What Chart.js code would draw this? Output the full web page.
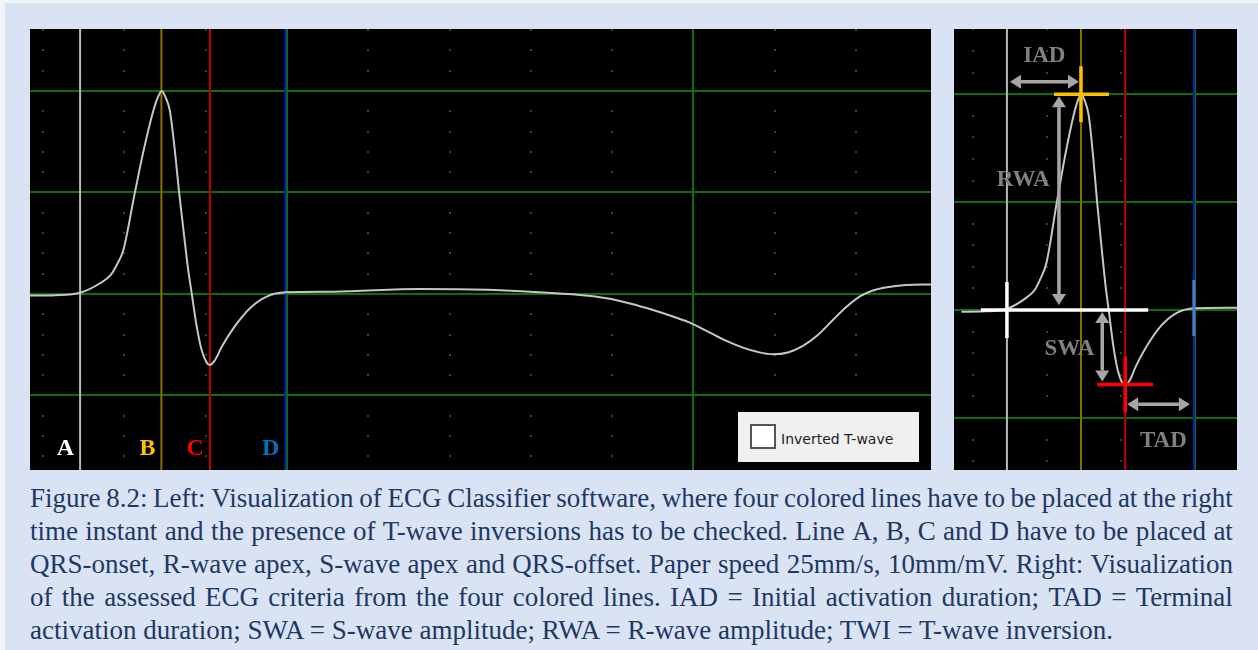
<!DOCTYPE html>
<html lang="en">
<head>
<meta charset="UTF-8">
<title>ECG Classifier - Figure 8.2</title>
<script src="https://cdn.jsdelivr.net/npm/chart.js"></script>
<style>
  html, body { margin: 0; padding: 0; }
  body { width: 1258px; height: 650px; background: #f3f4f7; position: relative; overflow: hidden; }
  #frame { position: absolute; left: 5px; top: 3px; right: 0; bottom: 0; background: #dae3f3; }
  .panel { position: absolute; top: 29px; height: 441px; background: #000; }
  #leftPanel { left: 30px; width: 901px; }
  #rightPanel { left: 954px; width: 283px; }
  .panel canvas { display: block; }
  #twave { position: absolute; left: 738px; top: 412px; width: 181px; height: 50px; background: #f0f0f0; }
  #twave .box { position: absolute; left: 12px; top: 12px; width: 22px; height: 21px; border: 2px solid #555; background: #fff; }
  #twave .lbl { position: absolute; left: 43px; top: 19px; line-height: 16px; font-family: "DejaVu Sans", sans-serif; font-size: 14px; color: #1e1e1e; white-space: nowrap; }
  #caption { position: absolute; left: 30px; top: 482px; width: 1203px; font-family: "Liberation Serif", "Times New Roman", serif; font-size: 27px; line-height: 33.1px; color: #203864; }
  #caption .row { display: flex; justify-content: space-between; white-space: nowrap; }
  #caption .last { white-space: nowrap; }
</style>
</head>
<body>
<div id="frame"></div>
<div id="leftPanel" class="panel"><canvas id="leftCanvas" width="901" height="441"></canvas></div>
<div id="rightPanel" class="panel"><canvas id="rightCanvas" width="283" height="441"></canvas></div>
<div id="twave"><div class="box"></div><div class="lbl">Inverted T-wave</div></div>
<div id="caption"></div>

<script>
  // ECG trace (time in ms, amplitude in mV)
  const traceTime = [73.6, 85.9, 98.2, 108.0, 113.3, 116.2, 119.5, 125.2, 129.3, 134.2, 136.5, 138.4, 140.2, 142.4, 144.9, 146.9, 150.2, 151.4, 153.1, 155.6, 158.0, 160.5, 162.1, 164.6, 167.9, 173.6, 181.8, 190.0, 199.4, 222.8, 265.4, 298.3, 319.6, 344.2, 357.3, 368.8, 380.1, 389.9, 399.8, 408.1, 416.5, 424.4, 431.8, 439.1, 446.5, 453.9, 461.2, 468.6, 475.5, 481.9, 488.3, 495.2, 504.5, 516.9];
  const traceAmp = [-0.008, -0.006, 0.006, 0.053, 0.094, 0.143, 0.217, 0.502, 0.700, 0.901, 0.970, 1.000, 0.970, 0.901, 0.700, 0.502, 0.217, 0.118, 0.005, -0.161, -0.276, -0.338, -0.350, -0.325, -0.260, -0.169, -0.070, -0.013, 0.008, 0.011, 0.025, 0.021, 0.011, -0.005, -0.021, -0.047, -0.079, -0.111, -0.148, -0.190, -0.232, -0.264, -0.286, -0.297, -0.288, -0.256, -0.202, -0.128, -0.062, -0.012, 0.017, 0.033, 0.044, 0.047];

  // the four placed lines: QRS-onset, R apex, S apex, QRS-offset (ms)
  const markerNames = ["A", "B", "C", "D"];
  const markerTimes = [98.2, 138.2, 162.1, 199.2];
  const markerColors = ["#b8b8b8", "#8c6d00", "#c40000", "#0c1fb4"];
  const labelColors = ["#ffffff", "#ffc000", "#ff0000", "#0070c0"];

  // amplitudes used by the criteria (mV)
  const rWaveAmp = 1.0;
  const sWaveAmp = -0.345;
  const iadLevel = 1.058;
  const tadLevel = -0.436;
  const rwaTime = 126.3;
  const swaTime = 149.7;

  // criteria labels: text, time (ms), amplitude of baseline (mV)
  const critNames = ["IAD", "RWA", "SWA", "TAD"];
  const critTimes = [118.4, 107.0, 131.9, 182.7];
  const critAmps = [1.148, 0.576, -0.209, -0.633];

  const captionLines = [
    "Figure 8.2: Left: Visualization of ECG Classifier software, where four colored lines have to be placed at the right",
    "time instant and the presence of T-wave inversions has to be checked. Line A, B, C and D have to be placed at",
    "QRS-onset, R-wave apex, S-wave apex and QRS-offset. Paper speed 25mm/s, 10mm/mV. Right: Visualization",
    "of the assessed ECG criteria from the four colored lines. IAD = Initial activation duration; TAD = Terminal",
    "activation duration; SWA = S-wave amplitude; RWA = R-wave amplitude; TWI = T-wave inversion."
  ];

  // caption, justified line by line
  const cap = document.getElementById("caption");
  captionLines.forEach((line, i) => {
    const row = document.createElement("div");
    if (i < captionLines.length - 1) {
      row.className = "row";
      line.split(" ").forEach(w => {
        const s = document.createElement("span");
        s.textContent = w;
        row.appendChild(s);
      });
    } else {
      row.className = "last";
      row.textContent = line;
    }
    cap.appendChild(row);
  });

  const GRID_MS = 200, DOT_MS = 40, GRID_MV = 0.5, DOT_MV = 0.1;

  // black paper, green major lines and small dots
  const ecgGrid = {
    id: "ecgGrid",
    beforeDatasetsDraw(chart) {
      const { ctx, chartArea: a, scales: { x, y } } = chart;
      ctx.save();
      ctx.fillStyle = "#000";
      ctx.fillRect(a.left, a.top, a.width, a.height);
      ctx.fillStyle = "#0d5f0d";
      for (let i = Math.ceil(x.min / DOT_MS); i * DOT_MS <= x.max; i++) {
        const px = Math.round(x.getPixelForValue(i * DOT_MS));
        for (let j = Math.ceil(y.min / DOT_MV); j * DOT_MV <= y.max; j++) {
          const py = Math.round(y.getPixelForValue(j * DOT_MV));
          ctx.fillRect(px - 1, py - 1, 2, 2);
        }
      }
      ctx.strokeStyle = "#0d6e0d";
      ctx.lineWidth = 2;
      ctx.beginPath();
      for (let i = Math.ceil(x.min / GRID_MS); i * GRID_MS <= x.max; i++) {
        const px = Math.round(x.getPixelForValue(i * GRID_MS));
        ctx.moveTo(px, a.top); ctx.lineTo(px, a.bottom);
      }
      for (let j = Math.ceil(y.min / GRID_MV); j * GRID_MV <= y.max; j++) {
        const py = Math.round(y.getPixelForValue(j * GRID_MV));
        ctx.moveTo(a.left, py); ctx.lineTo(a.right, py);
      }
      ctx.stroke();
      ctx.restore();
    }
  };

  // A B C D letters next to the lines (left panel)
  const markerLabels = {
    id: "markerLabels",
    afterDatasetsDraw(chart) {
      const { ctx, chartArea: a, scales: { x } } = chart;
      ctx.save();
      ctx.font = "bold 24px 'Liberation Serif'";
      ctx.textAlign = "right";
      ctx.textBaseline = "alphabetic";
      markerNames.forEach((n, i) => {
        ctx.fillStyle = labelColors[i];
        ctx.fillText(n, x.getPixelForValue(markerTimes[i]) - 6, a.bottom - 15);
      });
      ctx.restore();
    }
  };

  function arrow(ctx, x1, y1, x2, y2) {
    const ang = Math.atan2(y2 - y1, x2 - x1), L = 11, W = 7;
    const c = Math.cos(ang), s = Math.sin(ang);
    ctx.beginPath();
    ctx.moveTo(x1 + c * L, y1 + s * L);
    ctx.lineTo(x2 - c * L, y2 - s * L);
    ctx.stroke();
    [[x2, y2, 1], [x1, y1, -1]].forEach(([tx, ty, d]) => {
      ctx.beginPath();
      ctx.moveTo(tx, ty);
      ctx.lineTo(tx - d * c * L - s * W, ty - d * s * L + c * W);
      ctx.lineTo(tx - d * c * L + s * W, ty - d * s * L - c * W);
      ctx.closePath();
      ctx.fill();
    });
  }

  function cross(ctx, cx, cy, left, right, up, down, color, w) {
    ctx.strokeStyle = color;
    ctx.lineWidth = w;
    ctx.beginPath();
    if (left || right) { ctx.moveTo(cx - left, cy); ctx.lineTo(cx + right, cy); }
    if (up || down) { ctx.moveTo(cx, cy - up); ctx.lineTo(cx, cy + down); }
    ctx.stroke();
  }

  // assessed criteria (right panel)
  const criteria = {
    id: "criteria",
    afterDatasetsDraw(chart) {
      const { ctx, scales: { x, y } } = chart;
      const mx = markerTimes.map(t => x.getPixelForValue(t));
      const y0 = y.getPixelForValue(0), yR = y.getPixelForValue(rWaveAmp), yS = y.getPixelForValue(sWaveAmp);
      ctx.save();
      // crosses
      cross(ctx, mx[0], y0, 26, mx[2] - mx[0] + 23, 28, 28, "#ffffff", 3.5);
      cross(ctx, mx[1], yR, 27, 28, 28, 28, "#ffc000", 3.5);
      cross(ctx, mx[2], yS, 28, 28, 28, 28, "#ff0000", 3.5);
      cross(ctx, mx[3], y0 - 2, 0, 0, 28, 28, "#4a78e0", 3);
      // arrows
      ctx.strokeStyle = "#a6a6a6";
      ctx.fillStyle = "#a6a6a6";
      ctx.lineWidth = 3.5;
      const yI = y.getPixelForValue(iadLevel), yT = y.getPixelForValue(tadLevel);
      arrow(ctx, mx[0] + 3, yI, mx[1] - 2, yI);
      const xr = x.getPixelForValue(rwaTime), xs = x.getPixelForValue(swaTime);
      arrow(ctx, xr, yR + 2, xr, y0 - 5);
      arrow(ctx, xs, y0 + 2, xs, yS - 3);
      arrow(ctx, mx[2] + 2, yT, mx[3] - 4, yT);
      // labels
      ctx.fillStyle = "#808080";
      ctx.font = "bold 23px 'Liberation Serif'";
      ctx.textAlign = "center";
      ctx.textBaseline = "alphabetic";
      critNames.forEach((n, i) => {
        ctx.fillText(n, x.getPixelForValue(critTimes[i]), y.getPixelForValue(critAmps[i]));
      });
      ctx.restore();
    }
  };

  function buildChart(canvasId, xMin, xMax, yMin, yMax, extraPlugins) {
    const points = traceTime.map((t, i) => ({ x: t, y: traceAmp[i] }));
    const datasets = [{
      data: points,
      borderColor: "#c6c6c6",
      borderWidth: 2,
      pointRadius: 0,
      cubicInterpolationMode: "monotone",
      order: 0
    }];
    markerTimes.forEach((t, i) => {
      datasets.push({
        data: [{ x: t, y: yMin }, { x: t, y: yMax }],
        borderColor: markerColors[i],
        borderWidth: 2,
        pointRadius: 0,
        order: 1
      });
    });
    return new Chart(document.getElementById(canvasId), {
      type: "line",
      data: { datasets: datasets },
      options: {
        responsive: false,
        animation: false,
        devicePixelRatio: 1,
        layout: { padding: 0 },
        plugins: { legend: { display: false }, tooltip: { enabled: false } },
        scales: {
          x: { type: "linear", display: false, min: xMin, max: xMax },
          y: { type: "linear", display: false, min: yMin, max: yMax }
        }
      },
      plugins: [ecgGrid].concat(extraPlugins)
    });
  }

  buildChart("leftCanvas", 73.55, 516.9, -0.867, 1.3054, [markerLabels]);
  buildChart("rightCanvas", 69.6, 222.5, -0.741, 1.302, [criteria]);
</script>
</body>
</html>
